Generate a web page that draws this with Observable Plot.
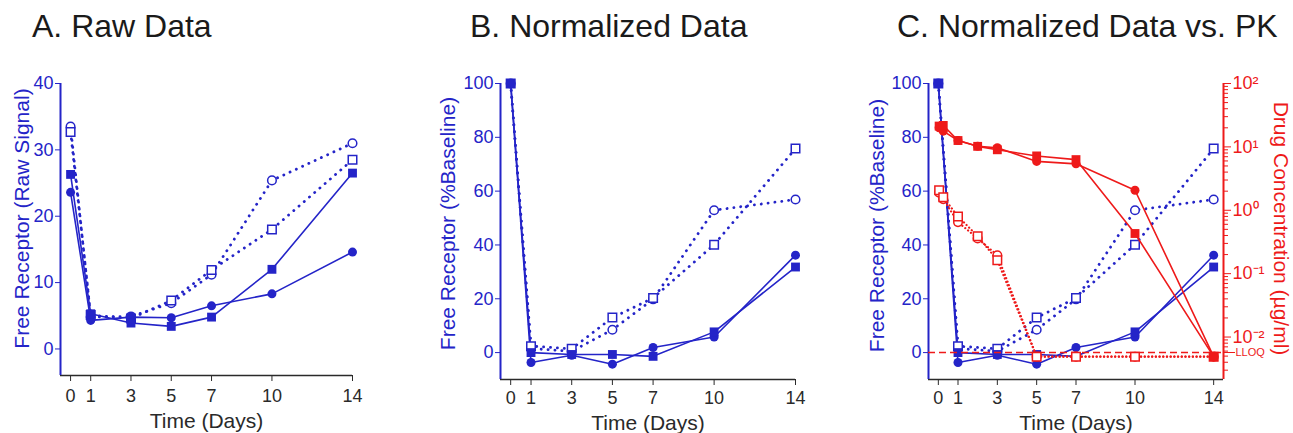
<!DOCTYPE html>
<html><head><meta charset="utf-8">
<script src="https://cdn.jsdelivr.net/npm/d3@7"></script>
<script src="https://cdn.jsdelivr.net/npm/@observablehq/plot@0.6"></script>
<style>
body{margin:0;background:#fff;font-family:"Liberation Sans",Arial,sans-serif;}
#wrap{position:relative;width:1293px;height:433px;overflow:hidden;background:#fff;}
.title{position:absolute;top:1px;height:50px;font-size:32px;color:#1a1a1a;line-height:50px;white-space:nowrap;}
.panel{position:absolute;top:50px;height:383px;}
.panel svg{position:absolute;left:0;top:0;}
</style></head><body>
<div id="wrap">
  <div class="title" style="left:32px">A. Raw Data</div>
  <div class="title" style="left:470px">B. Normalized Data</div>
  <div class="title" style="left:897px">C. Normalized Data vs. PK</div>
  <div class="panel" id="pA" style="left:0px;width:430px"></div>
  <div class="panel" id="pB" style="left:430px;width:430px"></div>
  <div class="panel" id="pC" style="left:850px;width:443px"></div>
</div>
<script>
// ---------- data ----------
const days = [0, 1, 3, 5, 7, 10, 14];
const xTicks = [0, 1, 3, 5, 7, 10, 14];

// A. raw signal
const rawFilledCircle = [23.6, 4.3, 4.8, 4.7, 6.5, 8.3, 14.6];
const rawFilledSquare = [26.3, 5.3, 3.9, 3.4, 4.8, 12.0, 26.5];
const rawOpenCircle   = [33.5, 4.8, 4.9, 6.9, 11.2, 25.4, 31.0];
const rawOpenSquare   = [32.7, 5.1, 4.6, 7.3, 11.9, 18.0, 28.5];
const yTicksRaw = [0, 10, 20, 30, 40];

// B/C. normalized (% baseline)
const normFilledCircle = [100, -3.7, -1.0, -4.3, 1.9, 5.8, 36.2];
const normFilledSquare = [100, 0.0, -0.7, -0.7, -1.4, 7.7, 31.8];
const normOpenCircle   = [100, 1.5, 0.5, 8.5, 19.8, 52.9, 56.9];
const normOpenSquare   = [100, 2.4, 1.4, 13.0, 20.3, 40.1, 75.8];
const yTicksNorm = [0, 20, 40, 60, 80, 100];

// C. PK (ug/ml)
const pkDays = [0.04, 0.25, 1, 2, 3, 5, 7, 10, 14];
const pkFilledCircle = [20.0, 17.7, 12.6, 10.2, 9.7, 5.9, 5.4, 2.07, 0.0049];
const pkFilledSquare = [21.3, 21.8, 12.6, 10.2, 9.0, 7.2, 6.3, 0.43, 0.0049];
const pkOpenCircle   = [1.9, 1.5, 0.65, 0.36, 0.195, 0.0049, 0.0049, 0.0049, 0.0049];
const pkOpenSquare   = [2.07, 1.6, 0.80, 0.39, 0.163, 0.0049, 0.0049, 0.0049, 0.0049];
const LLOQ = 0.0057;
const logMajor = [0.01, 0.1, 1, 10, 100];
const logLabels = ["10⁻²", "10⁻¹", "10⁰", "10¹", "10²"];
const logMinor = [0.003,0.004,0.005,0.006,0.007,0.008,0.009,
  0.02,0.03,0.04,0.05,0.06,0.07,0.08,0.09,
  0.2,0.3,0.4,0.5,0.6,0.7,0.8,0.9,
  2,3,4,5,6,7,8,9, 20,30,40,50,60,70,80,90];

// ---------- styling ----------
const BLUE = "#2424c8", RED = "#ee1a1a", AXIS = "#2a2a2a";
const FONT = "'Liberation Sans', Arial, sans-serif";

function rows(x, fc, fs, oc, os) {
  const ser = [
    {name: "fc", shape: "circle", open: false, values: fc},
    {name: "fs", shape: "square", open: false, values: fs},
    {name: "oc", shape: "circle", open: true, values: oc},
    {name: "os", shape: "square", open: true, values: os}
  ];
  return ser.flatMap(s => s.values.map((v, i) => ({day: x[i], value: v, series: s.name, shape: s.shape, open: s.open})));
}

function seriesMarks(data, color, dash, dashW) {
  const pick = (shape, open) => data.filter(d => d.shape === shape && d.open === open);
  return [
    Plot.line(data.filter(d => d.open), {x: "day", y: "value", z: "series", stroke: color, strokeWidth: dashW, strokeDasharray: dash, strokeLinecap: "round"}),
    Plot.line(data.filter(d => !d.open), {x: "day", y: "value", z: "series", stroke: color, strokeWidth: 1.6}),
    Plot.dot(pick("circle", true), {x: "day", y: "value", r: 4.3, fill: "white", stroke: color, strokeWidth: 1.5}),
    Plot.dot(pick("square", true), {x: "day", y: "value", symbol: "square", r: 4.8, fill: "white", stroke: color, strokeWidth: 1.5}),
    Plot.dot(pick("circle", false), {x: "day", y: "value", r: 4.5, fill: color}),
    Plot.dot(pick("square", false), {x: "day", y: "value", symbol: "square", r: 5, fill: color})
  ];
}

function receptorPlot({width, marginLeft, marginRight, marginBottom, xDomain, yDomain, yTicks, ylabel, ylabelDx, ylabelDy, xlabelDy, tickPad, data}) {
  return Plot.plot({
    width, height: 383, marginLeft, marginRight, marginTop: 33, marginBottom,
    x: {domain: xDomain},
    y: {domain: yDomain},
    style: {fontFamily: FONT, fontSize: "18px", background: "transparent", overflow: "visible"},
    marks: [
      Plot.axisX(xTicks, {tickSize: 6, tickPadding: tickPad, fontSize: 18, color: AXIS, label: null}),
      Plot.axisY(yTicks, {tickSize: 5, tickPadding: 2, fontSize: 18, color: BLUE, label: null}),
      Plot.text(["Time (Days)"], {frameAnchor: "bottom", dy: xlabelDy, lineAnchor: "bottom", textAnchor: "middle", fontSize: 21, fill: AXIS}),
      Plot.text([ylabel], {frameAnchor: "left", dx: ylabelDx, dy: ylabelDy, rotate: -90, lineAnchor: "middle", textAnchor: "middle", fontSize: 21, fill: BLUE}),
      Plot.ruleY([yDomain[0]], {stroke: AXIS, strokeWidth: 1.5}),
      Plot.ruleX([xDomain[0]], {stroke: BLUE, strokeWidth: 2}),
      ...seriesMarks(data, BLUE, "0.1,6.8", 2.8)
    ]
  });
}

// Panel A
document.getElementById("pA").append(receptorPlot({
  width: 430, marginLeft: 60, marginRight: 78, marginBottom: 58, xDomain: [-0.5, 14], yDomain: [-4, 40],
  yTicks: yTicksRaw, ylabel: "Free Receptor (Raw Signal)", ylabelDx: -38, ylabelDy: -11, xlabelDy: 52, tickPad: 8,
  data: rows(days, rawFilledCircle, rawFilledSquare, rawOpenCircle, rawOpenSquare)
}));

// Panel B
document.getElementById("pB").append(receptorPlot({
  width: 430, marginLeft: 70, marginRight: 65, marginBottom: 54, xDomain: [-0.5, 14], yDomain: [-10, 100],
  yTicks: yTicksNorm, ylabel: "Free Receptor (%Baseline)", ylabelDx: -52, ylabelDy: -8, xlabelDy: 50, tickPad: 6,
  data: rows(days, normFilledCircle, normFilledSquare, normOpenCircle, normOpenSquare)
}));

// Panel C (left: receptor)
document.getElementById("pC").append(receptorPlot({
  width: 443, marginLeft: 78, marginRight: 70, marginBottom: 54, xDomain: [-0.5, 14.5], yDomain: [-10, 100],
  yTicks: yTicksNorm, ylabel: "Free Receptor (%Baseline)", ylabelDx: -51, ylabelDy: -6, xlabelDy: 50, tickPad: 6,
  data: rows(days, normFilledCircle, normFilledSquare, normOpenCircle, normOpenSquare)
}));

// Panel C (right: PK, log scale overlay)
const pk = Plot.plot({
  width: 443, height: 383, marginLeft: 78, marginRight: 70, marginTop: 33, marginBottom: 54,
  x: {domain: [-0.5, 14.5], axis: null},
  y: {type: "log", domain: [Math.pow(10, -2.67), 100]},
  style: {fontFamily: FONT, fontSize: "18px", background: "transparent", overflow: "visible", pointerEvents: "none"},
  marks: [
    Plot.ruleY([LLOQ], {stroke: RED, strokeWidth: 1.5, strokeDasharray: "7,4"}),
    Plot.ruleX([14.5], {stroke: RED, strokeWidth: 2}),
    Plot.axisY(logMinor, {anchor: "right", tickSize: 4, tickFormat: () => "", color: RED, label: null}),
    Plot.axisY(logMajor, {anchor: "right", tickSize: 7, tickPadding: 2, fontSize: 18, color: RED, label: null,
      tickFormat: d => logLabels[logMajor.indexOf(d)]}),
    Plot.axisY([LLOQ], {anchor: "right", tickSize: 11, tickFormat: () => "", color: RED, label: null}),
    Plot.text([LLOQ], {y: d => d, text: () => "LLOQ", frameAnchor: "right", dx: 12, textAnchor: "start", lineAnchor: "middle", fontSize: 11, fill: RED}),
    Plot.text(["Drug Concentration (µg/ml)"], {frameAnchor: "right", dx: 57, dy: -3, rotate: 90, lineAnchor: "middle", textAnchor: "middle", fontSize: 21, fill: RED}),
    ...seriesMarks(rows(pkDays, pkFilledCircle, pkFilledSquare, pkOpenCircle, pkOpenSquare), RED, "0.1,3.6", 2.2)
  ]
});
document.getElementById("pC").append(pk);
</script>
</body></html>
